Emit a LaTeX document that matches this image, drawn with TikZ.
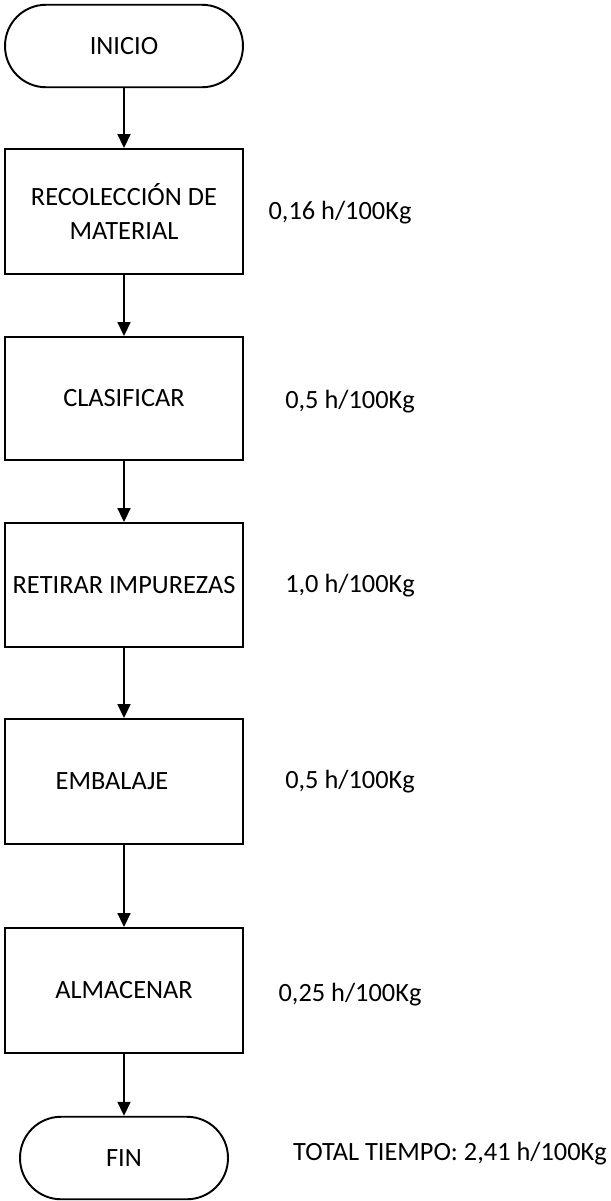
\documentclass[tikz,border=0pt]{standalone}
\usepackage{fontspec}
\setmainfont{Carlito}
\usetikzlibrary{positioning,arrows.meta}
\tikzset{procbox/.style={draw, line width=1.1pt, minimum width=4.76cm, minimum height=2.5cm, inner sep=0pt, align=center}}
\tikzset{termbox/.style={draw, line width=1.1pt, minimum height=1.65cm, rounded corners=0.82cm, inner sep=0pt}}
\tikzset{arr/.style={draw, line width=1pt, -{Triangle[width=0.26cm,length=0.28cm]}}}
\tikzset{tlabel/.style={inner sep=0pt}}

\begin{document}
\begin{tikzpicture}[x=0.02cm, y=-0.02cm, font=\fontsize{15}{19}\selectfont]
	\useasboundingbox (0,0) rectangle (611,1201);
	% pasos
	\node[termbox, minimum width=4.76cm] (inicio) at (124,46) {INICIO};
	\node[procbox] (recol) at (124,211.5) {RECOLECCIÓN DE\\MATERIAL};
	\node[procbox, minimum height=2.46cm] (clasif) at (124,398.5) {CLASIFICAR};
	\node[procbox, minimum height=2.48cm] (retirar) at (124,585) {RETIRAR IMPUREZAS};
	\node[procbox] (embal) at (124,781.5) {EMBALAJE\hspace*{0.48cm}};
	\node[procbox] (almac) at (124,990.5) {ALMACENAR};
	\node[termbox, minimum width=4.16cm] (fin) at (124,1158) {FIN};
	% tiempos
	\node[tlabel] (t1) at (340,213) {0,16 h/100Kg};
	\node[tlabel] (t2) at (350,402) {0,5 h/100Kg};
	\node[tlabel] (t3) at (350,586) {1,0 h/100Kg};
	\node[tlabel] (t4) at (350,782) {0,5 h/100Kg};
	\node[tlabel] (t5) at (350,995) {0,25 h/100Kg};
	\node[tlabel] (total) at (450,1154) {TOTAL TIEMPO: 2,41 h/100Kg};
	%
	\draw[arr] (inicio) -- (recol);
	\draw[arr] (recol) -- (clasif);
	\draw[arr] (clasif) -- (retirar);
	\draw[arr] (retirar) -- (embal);
	\draw[arr] (embal) -- (almac);
	\draw[arr] (almac) -- (fin);
\end{tikzpicture}
\end{document}
